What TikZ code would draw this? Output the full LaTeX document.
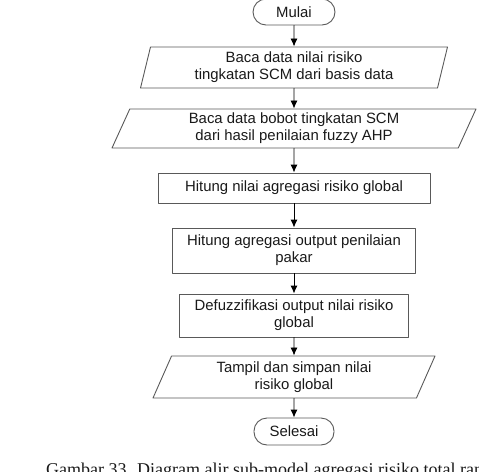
\documentclass[tikz,border=0pt]{standalone}
\usepackage{fontspec}
\setmainfont{Liberation Sans}
\newfontfamily\captionfont{Liberation Serif}
\usetikzlibrary{shapes.geometric,arrows.meta}
\begin{document}
\begin{tikzpicture}[x=1pt,y=-1pt,line cap=round,line join=round,>={Latex[length=8pt,width=7pt]},
  every node/.style={font=\fontsize{14.9}{17}\selectfont,align=center,text=black!90,inner sep=2pt},
  terminal/.style={draw=black!65,line width=0.9pt,rounded corners=13pt},
  process/.style={draw=black!65,line width=0.9pt},
  io/.style={draw=black!65,line width=0.9pt,trapezium,trapezium stretches body},
  flow/.style={->,line width=0.9pt}]
  \useasboundingbox (0,0) rectangle (479,471);
  \node[terminal,minimum width=82pt,minimum height=26pt] (mulai) at (294,12) {Mulai};
  \node[io,trapezium left angle=74,trapezium right angle=106,minimum width=307pt,minimum height=41pt] (bacanilai) at (294,67.5) {Baca data nilai risiko\\tingkatan SCM dari basis data};
  \node[io,trapezium left angle=63,trapezium right angle=117,minimum width=364pt,minimum height=39pt] (bacabobot) at (294,128.5) {Baca data bobot tingkatan SCM\\dari hasil penilaian fuzzy AHP};
  \node[process,minimum width=272pt,minimum height=30pt] (hitungglobal) at (294,188) {Hitung nilai agregasi risiko global};
  \node[process,minimum width=243pt,minimum height=45pt] (hitungpakar) at (294,250.5) {Hitung agregasi output penilaian\\pakar};
  \node[process,minimum width=229pt,minimum height=43pt] (defuzz) at (294,315.5) {Defuzzifikasi output nilai risiko\\global};
  \node[io,trapezium left angle=62,trapezium right angle=118,minimum width=282pt,minimum height=42pt] (tampil) at (294,377) {Tampil dan simpan nilai\\risiko global};
  \node[terminal,minimum width=80pt,minimum height=27pt] (selesai) at (294,431.5) {Selesai};
  \node[font=\captionfont\fontsize{18}{20}\selectfont,anchor=base west,inner sep=0pt] (caption) at (46,475) {Gambar 33. Diagram alir sub-model agregasi risiko total ran};
  \foreach \from/\to in {mulai/bacanilai,bacanilai/bacabobot,bacabobot/hitungglobal,hitungglobal/hitungpakar,hitungpakar/defuzz,defuzz/tampil,tampil/selesai}
    \draw[flow] (\from) -- (\to);
\end{tikzpicture}
\end{document}
